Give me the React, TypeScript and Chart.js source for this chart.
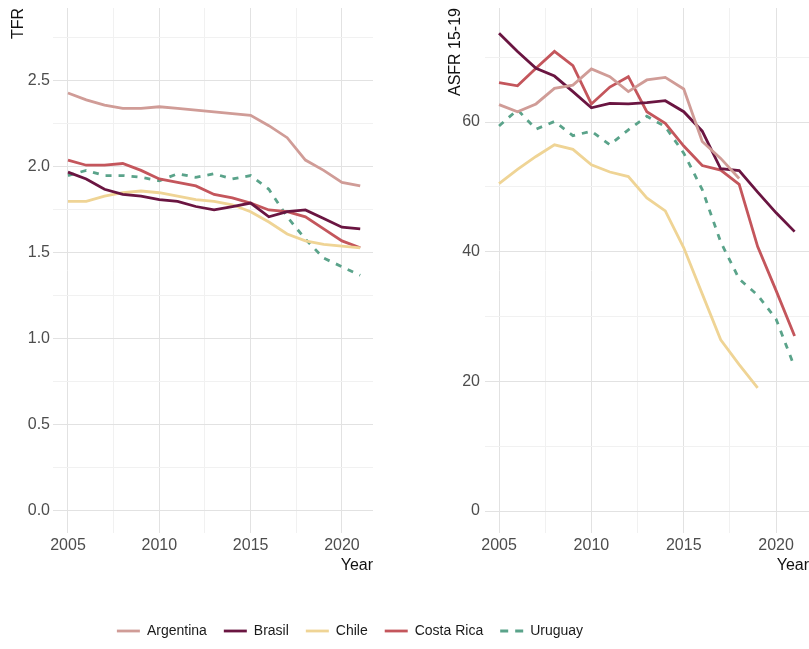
import React, { useEffect, useRef } from 'react';
import { Chart, registerables } from 'chart.js';

Chart.register(...registerables);

// ---------- data ----------
const years = [2005, 2006, 2007, 2008, 2009, 2010, 2011, 2012, 2013, 2014, 2015, 2016, 2017, 2018, 2019, 2020, 2021];
const countries = ['Argentina', 'Brasil', 'Chile', 'Costa Rica', 'Uruguay'];
const countryColors = ['#d09c97', '#6a1541', '#efd495', '#c4565c', '#5aa38a'];

// Total fertility rate
const tfrArgentina = [2.43, 2.39, 2.36, 2.34, 2.34, 2.35, 2.34, 2.33, 2.32, 2.31, 2.30, 2.24, 2.17, 2.04, 1.98, 1.91, 1.89];
const tfrBrasil = [1.97, 1.93, 1.87, 1.84, 1.83, 1.81, 1.80, 1.77, 1.75, 1.77, 1.79, 1.71, 1.74, 1.75, 1.70, 1.65, 1.64];
const tfrChile = [1.80, 1.80, 1.83, 1.85, 1.86, 1.85, 1.83, 1.81, 1.80, 1.78, 1.74, 1.68, 1.61, 1.57, 1.55, 1.54, 1.53];
const tfrCostaRica = [2.04, 2.01, 2.01, 2.02, 1.98, 1.93, 1.91, 1.89, 1.84, 1.82, 1.79, 1.75, 1.74, 1.71, 1.64, 1.57, 1.53];
const tfrUruguay = [1.95, 1.98, 1.95, 1.95, 1.94, 1.92, 1.96, 1.94, 1.96, 1.93, 1.95, 1.87, 1.71, 1.58, 1.47, 1.42, 1.37];

// Age-specific fertility rate 15-19
const asfrArgentina = [62.7, 61.6, 62.8, 65.2, 65.7, 68.2, 67.0, 64.7, 66.5, 66.9, 65.1, 57.0, 54.4, 51.3, null, null, null];
const asfrBrasil = [73.7, 70.9, 68.3, 67.1, 64.7, 62.2, 62.9, 62.8, 63.0, 63.3, 61.6, 58.6, 52.8, 52.5, 49.2, 46.0, 43.1];
const asfrChile = [50.5, 52.7, 54.7, 56.5, 55.8, 53.4, 52.3, 51.6, 48.3, 46.3, 40.6, 33.5, 26.4, 22.6, 19.0, null, null];
const asfrCostaRica = [66.1, 65.6, 68.3, 70.9, 68.7, 62.8, 65.4, 67.0, 61.6, 59.8, 56.3, 53.3, 52.6, 50.4, 40.8, 34.0, 27.0];
const asfrUruguay = [59.4, 61.9, 58.9, 60.1, 57.9, 58.6, 56.5, 58.8, 60.9, 59.3, 55.2, 49.6, 41.5, 35.8, 33.3, 29.6, 22.2];

// ticks
const xGridYears = [2005, 2007.5, 2010, 2012.5, 2015, 2017.5, 2020];
const xLabelYears = [2005, 2010, 2015, 2020];
const tfrGrid = [0, 0.25, 0.5, 0.75, 1.0, 1.25, 1.5, 1.75, 2.0, 2.25, 2.5, 2.75];
const tfrLabels = [0, 0.5, 1.0, 1.5, 2.0, 2.5];
const asfrGrid = [0, 10, 20, 30, 40, 50, 60, 70];
const asfrLabels = [0, 20, 40, 60];

const tfrSeries = [tfrArgentina, tfrBrasil, tfrChile, tfrCostaRica, tfrUruguay];
const asfrSeries = [asfrArgentina, asfrBrasil, asfrChile, asfrCostaRica, asfrUruguay];

// ---------- styling ----------
const FONT_FAMILY = '"Liberation Sans", Arial, Helvetica, sans-serif';
const TICK_COLOR = '#4d4d4d';
const TITLE_COLOR = '#111111';
const MAJOR_GRID = '#e2e2e2';
const MINOR_GRID = '#f1f1f1';
const LINE_WIDTH = 2.8;
const UY_DASH = [6, 7];
const UY_LEGEND_DASH = [8, 7];

function buildDatasets(series: (number | null)[][]) {
  return countries.map((name, i) => ({
    label: name,
    data: years.map((yr, j) => ({ x: yr, y: series[i][j] })),
    borderColor: countryColors[i],
    backgroundColor: countryColors[i],
    borderWidth: LINE_WIDTH,
    borderDash: name === 'Uruguay' ? UY_DASH : [],
    pointRadius: 0,
    tension: 0,
    spanGaps: false,
    fill: false,
  }));
}

type PanelCfg = {
  series: (number | null)[][];
  xMin: number;
  xMax: number;
  yMin: number;
  yMax: number;
  yGrid: number[];
  yLabels: number[];
  yTitle: string;
  yAxisWidth: number;
  yTitlePad: number;
  yTickPad: number;
  padRight: number;
  fmt: (v: number) => string;
};

function panelConfig(p: PanelCfg): any {
  const tickFont = { family: FONT_FAMILY, size: 16 };
  return {
    type: 'line',
    data: { datasets: buildDatasets(p.series) },
    options: {
      animation: false,
      responsive: false,
      maintainAspectRatio: false,
      layout: { padding: { top: 8, right: p.padRight, left: 0, bottom: 0 } },
      plugins: { legend: { display: false }, tooltip: { enabled: false } },
      scales: {
        x: {
          type: 'linear',
          min: p.xMin,
          max: p.xMax,
          afterBuildTicks: (s: any) => {
            s.ticks = xGridYears.map((v) => ({ value: v }));
          },
          afterFit: (s: any) => {
            s.height = 45;
            s.paddingLeft = 0;
            s.paddingRight = 0;
          },
          border: { display: false },
          grid: {
            drawTicks: false,
            lineWidth: 1,
            color: (c: any) => (c.tick && xLabelYears.includes(c.tick.value) ? MAJOR_GRID : MINOR_GRID),
          },
          ticks: {
            autoSkip: false,
            maxRotation: 0,
            padding: 3,
            color: TICK_COLOR,
            font: tickFont,
            callback: (v: number) => (xLabelYears.includes(v) ? String(v) : ''),
          },
          title: {
            display: true,
            text: 'Year',
            align: 'end',
            color: TITLE_COLOR,
            font: tickFont,
            padding: { top: 0, bottom: 3 },
          },
        },
        y: {
          type: 'linear',
          min: p.yMin,
          max: p.yMax,
          afterBuildTicks: (s: any) => {
            s.ticks = p.yGrid.map((v) => ({ value: v }));
          },
          afterFit: (s: any) => {
            s.width = p.yAxisWidth;
            s.paddingTop = 0;
            s.paddingBottom = 0;
          },
          border: { display: false },
          grid: {
            drawTicks: false,
            lineWidth: 1,
            color: (c: any) => (c.tick && p.yLabels.includes(c.tick.value) ? MAJOR_GRID : MINOR_GRID),
          },
          ticks: {
            autoSkip: false,
            padding: p.yTickPad,
            color: TICK_COLOR,
            font: tickFont,
            callback: (v: number) => (p.yLabels.includes(v) ? p.fmt(v) : ''),
          },
          title: {
            display: true,
            text: p.yTitle,
            align: 'end',
            color: TITLE_COLOR,
            font: tickFont,
            padding: { top: p.yTitlePad, bottom: 0 },
          },
        },
      },
    },
  };
}

function legendConfig(): any {
  return {
    type: 'line',
    data: { datasets: buildDatasets(tfrSeries).map((d) => ({ ...d, data: [] })) },
    options: {
      animation: false,
      responsive: false,
      maintainAspectRatio: false,
      layout: { padding: 0 },
      scales: { x: { display: false }, y: { display: false } },
      plugins: {
        tooltip: { enabled: false },
        legend: {
          display: true,
          position: 'top',
          align: 'center',
          labels: {
            usePointStyle: true,
            pointStyle: 'line',
            pointStyleWidth: 23,
            padding: 17,
            color: '#1a1a1a',
            font: { family: FONT_FAMILY, size: 14 },
            generateLabels: (chart: any) => {
              const items = Chart.defaults.plugins.legend.labels.generateLabels(chart);
              return items.map((it: any, i: number) => ({
                ...it,
                lineWidth: LINE_WIDTH,
                strokeStyle: countryColors[i],
                fillStyle: countryColors[i],
                lineDash: countries[i] === 'Uruguay' ? UY_LEGEND_DASH : [],
                pointStyle: 'line',
              }));
            },
          },
        },
      },
    },
  };
}

function ChartCanvas({ config, style, width, height }: { config: () => any; style: React.CSSProperties; width: number; height: number }) {
  const ref = useRef<HTMLCanvasElement | null>(null);
  useEffect(() => {
    if (!ref.current) return;
    const chart = new Chart(ref.current, config());
    return () => chart.destroy();
  }, []);
  return <canvas ref={ref} width={width} height={height} style={{ position: 'absolute', display: 'block', width, height, ...style }} />;
}

export default function App() {
  return (
    <div style={{ position: 'absolute', left: 0, top: 0, width: 809, height: 649, overflow: 'hidden', background: '#ffffff' }}>
      <ChartCanvas
        width={390}
        height={578}
        style={{ left: 0, top: 0 }}
        config={() =>
          panelConfig({
            series: tfrSeries,
            xMin: 2004.18,
            xMax: 2021.7,
            yMin: -0.128,
            yMax: 2.924,
            yGrid: tfrGrid,
            yLabels: tfrLabels,
            yTitle: 'TFR',
            yAxisWidth: 53,
            yTitlePad: 9,
            yTickPad: 3,
            padRight: 17,
            fmt: (v) => v.toFixed(1),
          })
        }
      />
      <ChartCanvas
        width={374}
        height={578}
        style={{ left: 435, top: 0 }}
        config={() =>
          panelConfig({
            series: asfrSeries,
            xMin: 2004.24,
            xMax: 2021.78,
            yMin: -3.39,
            yMax: 77.6,
            yGrid: asfrGrid,
            yLabels: asfrLabels,
            yTitle: 'ASFR 15-19',
            yAxisWidth: 50,
            yTitlePad: 11,
            yTickPad: 5,
            padRight: 0,
            fmt: (v) => String(v),
          })
        }
      />
      <ChartCanvas width={700} height={140} style={{ left: 0, top: 607 }} config={legendConfig} />
    </div>
  );
}
